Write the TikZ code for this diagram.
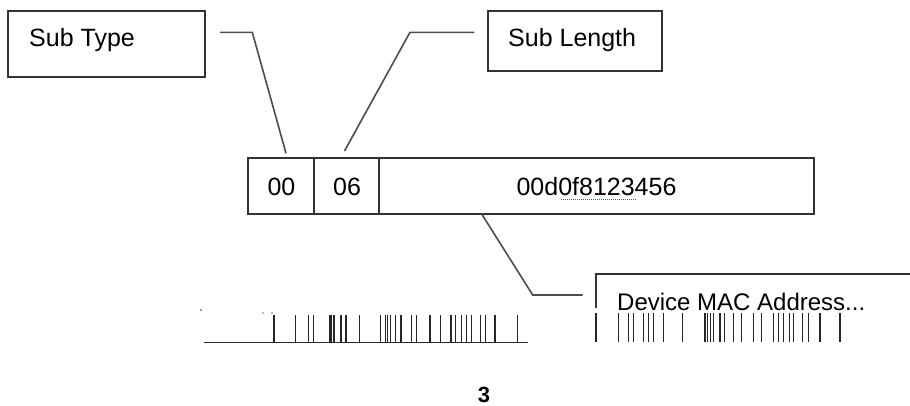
\documentclass[tikz,border=0pt]{standalone}
\usepackage{fontspec}
\setmainfont{Liberation Sans}
\begin{document}
\begin{tikzpicture}[x=1pt,y=-1pt,
  box/.style={draw=black!80,line width=1.6pt},
  lead/.style={draw=black!70,line width=1.6pt},
  bar/.style={draw=black!85,line width=1.5pt},
  lbl/.style={inner sep=0pt,font=\fontsize{25}{30}\selectfont},
  lbl24/.style={inner sep=0pt,font=\fontsize{24}{29}\selectfont},
  pagenum/.style={inner sep=0pt,font=\bfseries\fontsize{22}{26}\selectfont}]
\useasboundingbox (0,0) rectangle (910,405);
% Sub Type box
\draw[box] (8,11) rectangle (205,77);
\node[lbl,anchor=base west] (subtype) at (29,46.5) {Sub Type};
% Sub Length box
\draw[box] (488,11) rectangle (662,71);
\node[lbl,anchor=base west] (sublength) at (508,46) {Sub Length};
% main row
\draw[box] (248,158) rectangle (814,214);
\draw[box] (314,158) -- (314,214);
\draw[box] (379,158) -- (379,214);
\node[lbl,anchor=base] (f00) at (281.5,195) {00};
\node[lbl,anchor=base] (f06) at (347,195) {06};
\node[lbl,anchor=base] (mac) at (596.5,195) {00d0f8123456};
\draw[magenta,densely dotted,line width=1pt] (561,199) -- (636,199);
% connectors
\coordinate (a1) at (220,32.3);
\coordinate (a2) at (252.3,32.3);
\coordinate (a3) at (286,153.3);
\draw[lead] (a1) -- (a2) -- (a3);
\coordinate (b1) at (474.3,32.3);
\coordinate (b2) at (410,32.3);
\coordinate (b3) at (344.5,151);
\draw[lead] (b1) -- (b2) -- (b3);
\coordinate (c1) at (481.7,214);
\coordinate (c2) at (532.7,295);
\coordinate (c3) at (582.7,295);
\draw[lead] (c1) -- (c2) -- (c3);
% Device MAC Address box (clipped)
\draw[box] (596,308) -- (596,274) -- (910,274);
\node[lbl24,anchor=base west] (dev) at (617,310) {Device MAC Address...};
% barcode-like artefacts
\draw[bar] (204,342.7) -- (528,342.7);
\foreach \x in {274,295.7,308.3,313.3,330,331.7,334,341,346,359.3,380.7,385.7,387.3,390.7,395.7,401,411.7,416.7,430,440.7,451,455.7,461.7,466.7,471.7,480.7,485.7,495,517.3}
  \draw[bar] (\x,315) -- (\x,342.7);
\foreach \x in {596,618.3,628.3,633.3,643.3,648.3,653.3,663.3,682.7,705,707.7,710.7,713.3,720,724.3,733.3,741.7,753.3,761.7,773.3,778.3,783.3,789.3,793.3,802.7,808.3,820,840}
  \draw[bar] (\x,313) -- (\x,342);
\fill[black!80] (201,310) circle (0.9);
\fill[black!50] (263,313) circle (0.8);
\fill[black!50] (272,313) circle (0.8);
% page number
\node[pagenum,anchor=base] (pg) at (484,402) {3};
\end{tikzpicture}
\end{document}
